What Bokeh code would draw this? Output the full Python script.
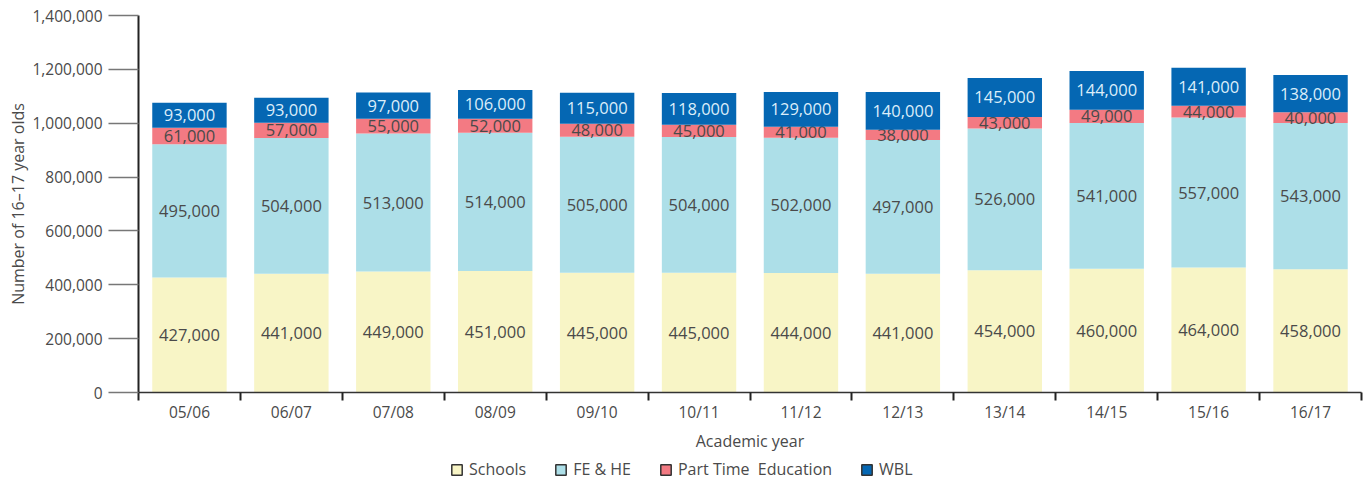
from bokeh.plotting import figure
from bokeh.layouts import column
from bokeh.models import (Range1d, FixedTicker, NumeralTickFormatter, ColumnDataSource,
                          Legend, LegendItem)
from bokeh.core.properties import value
from bokeh.embed import file_html
from bokeh.resources import INLINE

years = ["05/06", "06/07", "07/08", "08/09", "09/10", "10/11", "11/12", "12/13",
         "13/14", "14/15", "15/16", "16/17"]
schools = [427000, 441000, 449000, 451000, 445000, 445000, 444000, 441000, 454000, 460000, 464000, 458000]
fe_he = [495000, 504000, 513000, 514000, 505000, 504000, 502000, 497000, 526000, 541000, 557000, 543000]
part_time = [61000, 57000, 55000, 52000, 48000, 45000, 41000, 38000, 43000, 49000, 44000, 40000]
wbl = [93000, 93000, 97000, 106000, 115000, 118000, 129000, 140000, 145000, 144000, 141000, 138000]

series_names = ["Schools", "FE & HE", "Part Time  Education", "WBL"]
colors = ["#F8F5C6", "#ADDFE8", "#F37A83", "#0567B3"]
label_colors = ["#4a4a4a", "#4a4a4a", "#4a4a4a", "#DCEEFA"]

FONT = "Open Sans"
TXT = "#4a4a4a"

p = figure(frame_width=1223, frame_height=377, output_backend="svg", toolbar_location=None,
           x_range=Range1d(0, len(years)), y_range=Range1d(0, 1400000),
           min_border_left=138, min_border_right=9, min_border_top=15, min_border_bottom=63)

xc = [i + 0.5 for i in range(len(years))]
data = [schools, fe_he, part_time, wbl]
bottoms = [0] * len(years)
for vals, col, lc in zip(data, colors, label_colors):
    tops = [b + v for b, v in zip(bottoms, vals)]
    src = ColumnDataSource(dict(x=xc, bottom=bottoms, top=tops,
                                mid=[(b + t) / 2 for b, t in zip(bottoms, tops)],
                                txt=[f"{v:,}" for v in vals]))
    p.vbar(x="x", width=0.73, bottom="bottom", top="top", source=src,
           fill_color=col, line_color=None)
    p.text(x="x", y="mid", text="txt", source=src, text_align="center",
           text_baseline="middle", text_font=value(FONT), text_font_size="16.5px",
           text_color=lc)
    bottoms = tops

# axes
p.xaxis.ticker = FixedTicker(ticks=xc, minor_ticks=list(range(len(years) + 1)))
p.xaxis.major_label_overrides = {x: y for x, y in zip(xc, years)}
p.xaxis.major_tick_out = 0
p.xaxis.major_tick_in = 0
p.xaxis.minor_tick_out = 8
p.xaxis.minor_tick_in = 0
p.xaxis.minor_tick_line_color = "#222222"
p.xaxis.minor_tick_line_width = 2
p.xaxis.axis_line_color = "#333333"
p.xaxis.axis_line_width = 1.5
p.xaxis.axis_label = "Academic year"
p.xaxis.major_label_standoff = 0

p.yaxis.ticker = FixedTicker(ticks=list(range(0, 1400001, 200000)), minor_ticks=[])
p.yaxis.formatter = NumeralTickFormatter(format="0,0")
p.yaxis.major_tick_out = 30
p.yaxis.major_tick_in = 0
p.yaxis.major_tick_line_color = "#777777"
p.yaxis.major_tick_line_width = 1.5
p.yaxis.axis_line_color = "#222222"
p.yaxis.axis_line_width = 2
p.yaxis.axis_label = "Number of 16\u201317 year olds"
p.yaxis.major_label_standoff = 6

for ax in [p.xaxis, p.yaxis]:
    ax.major_label_text_font = FONT
    ax.major_label_text_font_size = "15.5px"
    ax.major_label_text_color = TXT
    ax.axis_label_text_font = FONT
    ax.axis_label_text_font_size = "16px"
    ax.axis_label_text_color = TXT
    ax.axis_label_text_font_style = "normal"
p.xaxis.axis_label_standoff = 4
p.yaxis.axis_label_standoff = 0

p.xgrid.visible = False
p.ygrid.visible = False
p.outline_line_color = None

# legend strip (separate figure below the chart)
p2 = figure(width=1370, height=27, output_backend="svg", toolbar_location=None,
            x_range=Range1d(0, 1), y_range=Range1d(0, 1),
            x_axis_location=None, y_axis_location=None, min_border=0)
p2.xgrid.visible = False
p2.ygrid.visible = False
p2.outline_line_color = None
leg_rs = []
for col in colors:
    lr = p2.quad(left=[-10], right=[-9], bottom=[-10], top=[-9], fill_color=col,
                 line_color="#333333", line_width=1.5)
    leg_rs.append(lr)
legend = Legend(items=[LegendItem(label=n, renderers=[r]) for n, r in zip(series_names, leg_rs)],
                orientation="horizontal", location=(312, 2),
                label_text_font=FONT, label_text_font_size="16px", label_text_color=TXT,
                glyph_width=13, glyph_height=13, spacing=28, label_standoff=6,
                padding=0, margin=0, border_line_color=None, background_fill_alpha=0)
p2.add_layout(legend, "center")

layout = column(p, p2, spacing=0)

open("out.html", "w").write(file_html(layout, INLINE))
